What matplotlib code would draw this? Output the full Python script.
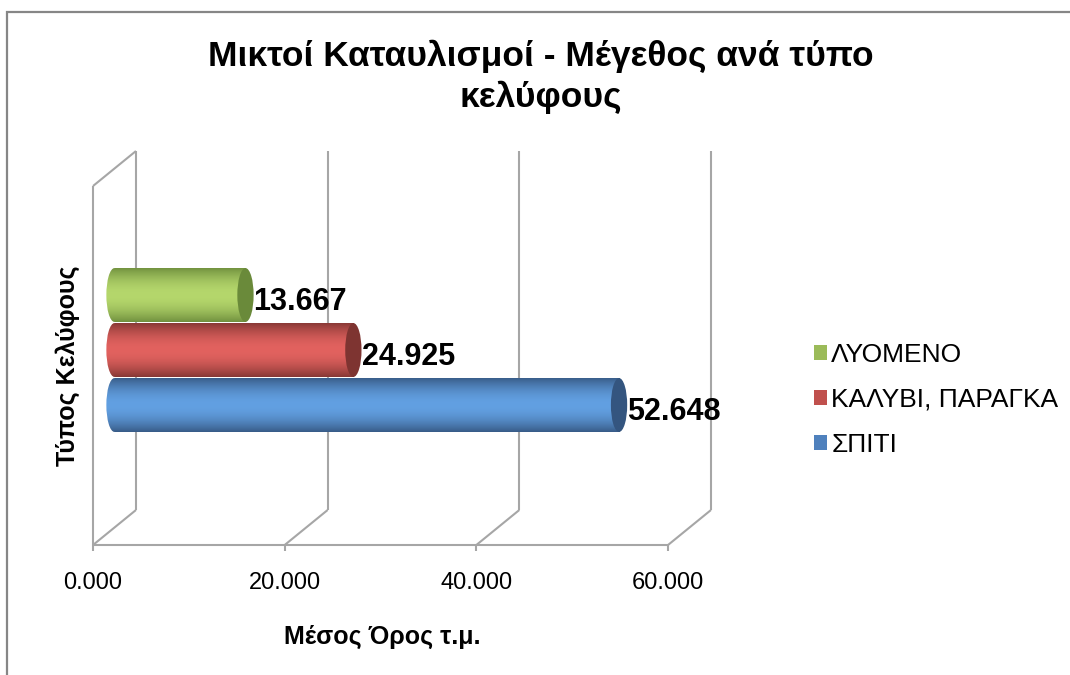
import matplotlib
matplotlib.use("Agg")
import matplotlib.pyplot as plt
from matplotlib.patches import Ellipse, Patch, Rectangle
import numpy as np

plt.rcParams['font.family'] = ['Liberation Sans', 'DejaVu Sans']

# data
categories = ['ΣΠΙΤΙ', 'ΚΑΛΥΒΙ, ΠΑΡΑΓΚΑ', 'ΛΥΟΜΕΝΟ']
values = [52.648, 24.925, 13.667]
value_labels = ['52.648', '24.925', '13.667']
x_ticks = [0, 20, 40, 60]
x_tick_labels = ['0.000', '20.000', '40.000', '60.000']

title = 'Μικτοί Καταυλισμοί - Μέγεθος ανά τύπο\nκελύφους'
x_label = 'Μέσος Όρος τ.μ.'
y_label = 'Τύπος Κελύφους'

base_colors = ['#4f81bd', '#c0504d', '#9bbb59']
light_colors = ['#62a0e2', '#e2625f', '#b5d76c']
cap_colors = ['#34557f', '#7e3431', '#6a8a3a']

W, H = 1070, 675
fig = plt.figure(figsize=(W / 100, H / 100), dpi=100)

# outer border (only left/top visible in reference)
fig.patches.append(Rectangle((7 / W, -0.1), 1.2, 1 - 12 / H + 0.1, transform=fig.transFigure,
                             fill=False, edgecolor='#868686', linewidth=1.6))

# axes at the "mid depth" plane of the 3D box
XMIN, XMAX = -3, 60
PX = 575 / 60  # pixels per unit
ax = fig.add_axes([(114.5 + XMIN * PX) / W, (H - 527.5) / H, (XMAX - XMIN) * PX / W, 359 / H])
y0, y1 = -2.227, 4.3
ax.axis('off')

DX, DY = 2.24, 0.318   # half depth of the box in data units
grid_kw = dict(color='#a6a6a6', lw=1.5, zorder=1, clip_on=False, solid_capstyle='butt')

# back wall gridlines
for t in x_ticks:
    ax.plot([t + DX, t + DX], [y0 + DY, y1 + DY], **grid_kw)
    # floor diagonals
    ax.plot([t - DX, t + DX], [y0 - DY, y0 + DY], **grid_kw)
    # tick marks
    ax.plot([t - DX, t - DX], [y0 - DY, y0 - DY - 0.11], **grid_kw)
# left wall
ax.plot([-DX, -DX], [y0 - DY, y1 - DY], **grid_kw)
ax.plot([-DX, DX], [y1 - DY, y1 + DY], **grid_kw)
# front floor line
ax.plot([-DX, 60 - DX], [y0 - DY, y0 - DY], **grid_kw)

# cylinders
h = 0.98
capw = 0.85
ypos = np.arange(len(values))
bars = ax.barh(ypos, values, height=h, left=0, color=base_colors, zorder=3)

t = np.linspace(0, 1, 120)
shade = np.sin(np.pi * np.clip(t * 0.95 + 0.02, 0, 1)) ** 0.9
for i, (bar, v) in enumerate(zip(bars, values)):
    dark = np.array(matplotlib.colors.to_rgb(cap_colors[i]))
    light = np.array(matplotlib.colors.to_rgb(light_colors[i]))
    grad = dark[None, :] + (light - dark)[None, :] * shade[:, None]
    img = grad[:, None, :]
    yc = ypos[i]
    z = 3 + (len(values) - i) * 0.1
    bar.set_zorder(z)
    left_end = Ellipse((0, yc), 2 * capw, h, facecolor='none', edgecolor='none')
    ax.add_patch(left_end)
    for clip in (bar, left_end):
        im = ax.imshow(img, extent=[-capw, v, yc - h / 2, yc + h / 2], origin='lower',
                       aspect='auto', interpolation='bilinear', zorder=z + 0.01)
        im.set_clip_path(clip)
    ax.add_patch(Ellipse((v, yc), 2 * capw, h, facecolor=cap_colors[i],
                         edgecolor='none', zorder=z + 0.02))
    ax.text(v + capw, yc - 0.13, value_labels[i], ha='left', va='center',
            fontsize=22, fontweight='bold', color='black', zorder=10, clip_on=False)

ax.set_xlim(XMIN, XMAX)
ax.set_ylim(y0, y1)

# x tick labels on the front plane
for xt, lab in zip(x_ticks, x_tick_labels):
    ax.text(xt - DX, -3.236, lab, ha='center', va='center', fontsize=17, clip_on=False)

fig.text(541 / W, 1 - 77 / H, title, ha='center', va='center', fontsize=25.5,
         fontweight='bold', linespacing=1.28)
fig.text(382 / W, 1 - 637 / H, x_label, ha='center', va='center', fontsize=18,
         fontweight='bold')
fig.text(68 / W, 1 - 366 / H, y_label, ha='center', va='center', fontsize=18,
         fontweight='bold', rotation=90)

# legend
handles = [Patch(facecolor=base_colors[i], edgecolor='none') for i in (2, 1, 0)]
labels = [categories[i] for i in (2, 1, 0)]
fig.legend(handles, labels, loc='center left', bbox_to_anchor=(814 / W, 1 - 400 / H),
           frameon=False, fontsize=19, handlelength=0.5, handleheight=0.5,
           handletextpad=0.15, labelspacing=0.8, borderpad=0, borderaxespad=0)

fig.savefig('out.png', dpi=100, facecolor='white')
